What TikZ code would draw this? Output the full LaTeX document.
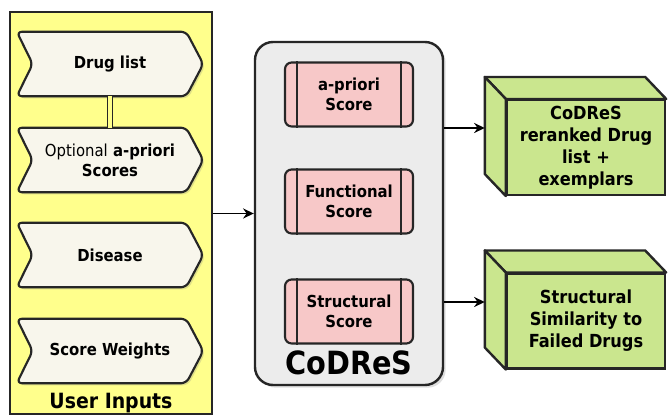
\documentclass[tikz,border=0pt]{standalone}
\usepackage{fontspec}
\setmainfont{DejaVu Sans Condensed}
\usetikzlibrary{calc,arrows.meta,shadows}
\definecolor{ylw}{RGB}{255,255,140}
\definecolor{cream}{RGB}{248,246,236}
\definecolor{lgray}{RGB}{236,236,236}
\definecolor{pinkf}{RGB}{247,200,200}
\definecolor{grn}{RGB}{202,230,142}
\definecolor{edge}{RGB}{38,38,38}
\tikzset{
  panel/.style={draw=edge, line width=1.8pt, fill=ylw, minimum width=151.5pt, minimum height=301.5pt, inner sep=0pt},
  chevtext/.style={minimum width=139.5pt, minimum height=48pt, inner sep=0pt, align=center,
     font=\fontsize{12.4}{15}\selectfont\bfseries},
  chevshape/.style={draw=edge, line width=1.6pt, fill=cream, rounded corners=4pt,
     drop shadow={opacity=0.25, shadow xshift=1.5pt, shadow yshift=-1.5pt}},
  codresbox/.style={draw=edge, line width=1.8pt, fill=lgray, rounded corners=13.5pt,
     minimum width=141pt, minimum height=257.25pt, inner sep=0pt,
     drop shadow={opacity=0.25, shadow xshift=2pt, shadow yshift=-2pt}},
  pinkbox/.style={draw=edge, line width=1.6pt, fill=pinkf, rounded corners=5pt,
     minimum width=96pt, minimum height=48pt, inner sep=0pt, align=center,
     font=\fontsize{12.4}{15}\selectfont\bfseries},
  front/.style={draw=edge, line width=1.8pt, fill=grn, minimum width=118.5pt,
     minimum height=71pt, inner sep=0pt, align=center,
     font=\fontsize{13.5}{16.5}\selectfont\bfseries},
  face/.style={draw=edge, line width=1.8pt, fill=grn, line join=round},
  arr/.style={-{Stealth[length=8pt,width=7.5pt]}, line width=1.4pt, draw=black},
}
\begin{document}
\begin{tikzpicture}[x=0.75pt,y=-0.75pt]
\useasboundingbox (0,0) rectangle (669,416);
\fill[white] (0,0) rectangle (669,416);

% ---- User inputs panel
\node[panel] (inputs) at (111,213) {};
\node[font=\fontsize{15.75}{18}\selectfont\bfseries] (uilabel) at (111,403) {User Inputs};

\foreach \nm/\yy/\txt in {drug/64/{Drug list},
                          opt/160/{{\mdseries Optional} a-priori\\Scores},
                          dis/255/{Disease},
                          sw/351/{Score Weights}}{
  \node[chevtext] (\nm) at (110,\yy) {};
  \path[chevshape] (\nm.north west) -- ($(\nm.north east)+(-17,0)$) -- (\nm.east)
     -- ($(\nm.south east)+(-17,0)$) -- (\nm.south west) -- ($(\nm.west)+(16,0)$) -- cycle;
  \node[chevtext] at (\nm) {\txt};
}
\draw[draw=edge, line width=1pt, double=ylw, double distance=2.4pt] (drug.south) -- (opt.north);

% ---- CoDReS
\node[codresbox] (codres) at (349,213.5) {};
\node[pinkbox] (pa) at (349,94.5) {a-priori\\Score};
\node[pinkbox] (pf) at (349,201.5) {Functional\\Score};
\node[pinkbox] (ps) at (349,311.5) {Structural\\Score};
\foreach \b in {pa,pf,ps}{
  \draw[draw=edge, line width=1.4pt] ($(\b.north west)+(13,0)$) -- ($(\b.south west)+(13,0)$);
  \draw[draw=edge, line width=1.4pt] ($(\b.north east)+(-13,0)$) -- ($(\b.south east)+(-13,0)$);
}
\node[font=\fontsize{24}{27}\selectfont\bfseries] (cname) at (349,363) {CoDReS};

% ---- outputs (3D boxes)
\coordinate (g1c) at (586,147.5);
\coordinate (g2c) at (586,321);
\node[front] (g1) at (g1c) {};
\node[front] (g2) at (g2c) {};
\foreach \g in {g1,g2}{
  \path[face] (\g.north west) -- ($(\g.north west)+(-21,-22)$) -- ($(\g.north east)+(-21,-22)$)
     -- (\g.north east) -- cycle;
  \path[face] (\g.north west) -- ($(\g.north west)+(-21,-22)$) -- ($(\g.south west)+(-21,-22)$)
     -- (\g.south west) -- cycle;
}
\node[front] (g1t) at (g1c) {CoDReS\\reranked Drug\\list +\\exemplars};
\node[front] (g2t) at (g2c) {Structural\\Similarity to\\Failed Drugs};

\coordinate (g1in) at ($(g1.west)+(-21,-19.5)$);
\coordinate (g2in) at ($(g2.west)+(-21,-19)$);

% ---- connectors
\draw[arr] (inputs.east |- codres.west) -- (codres.west);
\draw[arr] (g1in -| codres.east) -- (g1in);
\draw[arr] (g2in -| codres.east) -- (g2in);
\end{tikzpicture}
\end{document}
